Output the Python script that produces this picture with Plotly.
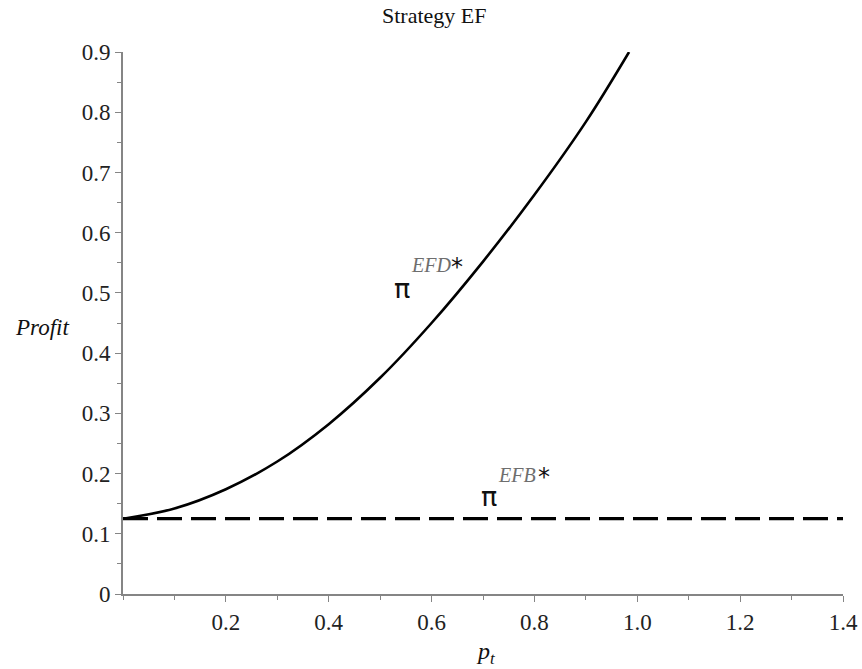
import plotly.graph_objects as go

# Data
p_t = [0.0, 0.1, 0.2, 0.3, 0.4, 0.5, 0.6, 0.7, 0.8, 0.9, 0.984]
profit_efd = [0.125, 0.142, 0.174, 0.220, 0.282, 0.359, 0.450, 0.552, 0.663, 0.784, 0.900]
p_t_flat = [0.0, 1.4]
profit_efb = [0.125, 0.125]

x_tickvals = [0.2, 0.4, 0.6, 0.8, 1.0, 1.2, 1.4]
x_ticktext = ["0.2", "0.4", "0.6", "0.8", "1.0", "1.2", "1.4"]
y_tickvals = [0, 0.1, 0.2, 0.3, 0.4, 0.5, 0.6, 0.7, 0.8, 0.9]
y_ticktext = ["0", "0.1", "0.2", "0.3", "0.4", "0.5", "0.6", "0.7", "0.8", "0.9"]

FONT = "Liberation Serif"
AXIS = "#858585"

fig = go.Figure()
fig.add_trace(go.Scatter(x=p_t_flat, y=profit_efb, mode="lines",
                         line=dict(color="black", width=3.2, dash="25px,9px"),
                         showlegend=False, hoverinfo="skip"))
fig.add_trace(go.Scatter(x=p_t, y=profit_efd, mode="lines", line_shape="spline",
                         line=dict(color="black", width=2.6, smoothing=1.0),
                         showlegend=False, hoverinfo="skip"))

axis_common = dict(showgrid=False, zeroline=False, showline=True, linecolor=AXIS,
                   linewidth=2, ticks="outside", tickcolor=AXIS, ticklen=6, tickwidth=1,
                   automargin=False,
                   tickfont=dict(family=FONT, size=23, color="#222"))

fig.update_xaxes(range=[0, 1.4], tickvals=x_tickvals, ticktext=x_ticktext,
                 minor=dict(dtick=0.1, ticks="outside", ticklen=4, tickcolor=AXIS, tick0=0),
                 **axis_common)
fig.update_yaxes(range=[0, 0.9], tickvals=y_tickvals, ticktext=y_ticktext,
                 minor=dict(dtick=0.05, ticks="outside", ticklen=4, tickcolor=AXIS, tick0=0),
                 **axis_common)

annotations = [
    dict(text="Strategy EF", xref="paper", yref="paper", x=0.433, y=1.068,
         showarrow=False, font=dict(family=FONT, size=22, color="#111"),
         xanchor="center", yanchor="middle"),
    dict(text="<i>Profit</i>", xref="paper", yref="paper", x=-0.1125, y=0.492,
         showarrow=False, font=dict(family=FONT, size=23, color="#111"),
         xanchor="center", yanchor="middle"),
    dict(text="<i>p</i><sub><i>t</i></sub>", xref="paper", yref="paper", x=0.503, y=-0.108,
         showarrow=False, font=dict(family=FONT, size=24, color="#111"),
         xanchor="center", yanchor="middle"),
    # pi EFD*
    dict(text="π", xref="x", yref="y", x=0.543, y=0.508, showarrow=False,
         font=dict(family="DejaVu Sans", size=27, color="#111"),
         xanchor="center", yanchor="middle"),
    dict(text="<i>EFD</i>", xref="x", yref="y", x=0.556, y=0.546, showarrow=False,
         font=dict(family=FONT, size=20, color="#6e6e6e"),
         xanchor="left", yanchor="middle"),
    dict(text="*", xref="x", yref="y", x=0.634, y=0.543, showarrow=False,
         font=dict(family="DejaVu Sans", size=24, color="#111"),
         xanchor="left", yanchor="middle"),
    # pi EFB*
    dict(text="π", xref="x", yref="y", x=0.712, y=0.1615, showarrow=False,
         font=dict(family="DejaVu Sans", size=27, color="#111"),
         xanchor="center", yanchor="middle"),
    dict(text="<i>EFB</i>", xref="x", yref="y", x=0.726, y=0.198, showarrow=False,
         font=dict(family=FONT, size=20, color="#6e6e6e"),
         xanchor="left", yanchor="middle"),
    dict(text="*", xref="x", yref="y", x=0.803, y=0.195, showarrow=False,
         font=dict(family="DejaVu Sans", size=24, color="#111"),
         xanchor="left", yanchor="middle"),
]

fig.update_layout(width=862, height=669, paper_bgcolor="white", plot_bgcolor="white",
                  margin=dict(l=123, r=19, t=52, b=75), annotations=annotations,
                  showlegend=False)

fig.write_html("out.html")
